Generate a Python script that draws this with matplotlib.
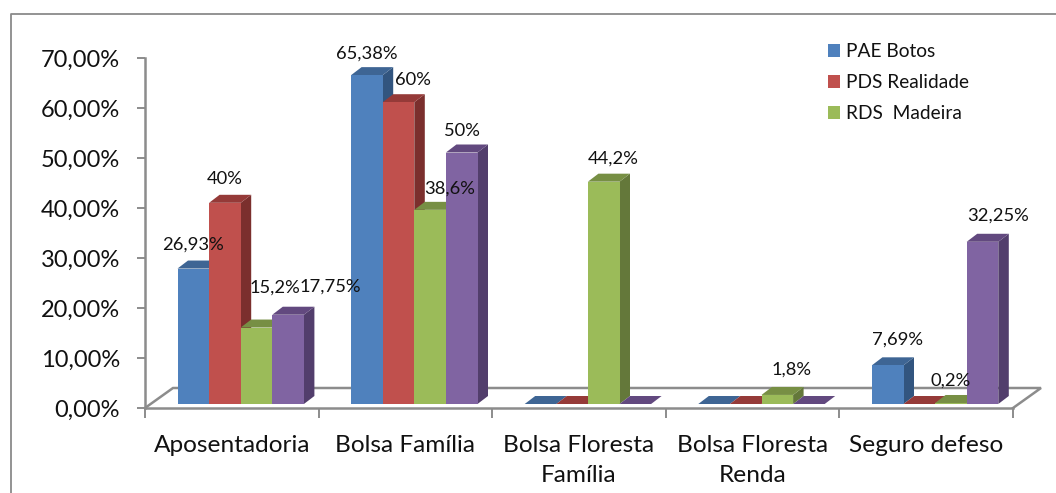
import matplotlib
matplotlib.use("Agg")
import matplotlib.pyplot as plt
from matplotlib.patches import Polygon, Rectangle

W, H = 1056, 493
plt.rcParams['font.family'] = ['Lato', 'DejaVu Sans']

categories = ["Aposentadoria", "Bolsa Família", "Bolsa Floresta\nFamília",
              "Bolsa Floresta\nRenda", "Seguro defeso"]
series_names = ["PAE Botos", "PDS Realidade", "RDS  Madeira"]
pae_botos = [26.93, 65.38, 0, 0, 7.69]
pds_realidade = [40, 60, 0, 0, 0]
rds_madeira = [15.2, 38.6, 44.2, 1.8, 0.2]
quarta_serie = [17.75, 50, 0, 0, 32.25]
pae_labels = ["26,93%", "65,38%", "", "", "7,69%"]
pds_labels = ["40%", "60%", "", "", ""]
rds_labels = ["15,2%", "38,6%", "44,2%", "1,8%", "0,2%"]
quarta_labels = ["17,75%", "50%", "", "", "32,25%"]
yticks = [0, 10, 20, 30, 40, 50, 60, 70]
ytick_labels = ["0,00%", "10,00%", "20,00%", "30,00%", "40,00%", "50,00%", "60,00%", "70,00%"]

front = ["#4F81BD", "#C0504D", "#9BBB59", "#8064A2"]
top = ["#3E6594", "#953A38", "#778F44", "#62497F"]
side = ["#32557F", "#7B2F2D", "#64783A", "#523E6C"]
gray = "#8C8C8C"

fig = plt.figure(figsize=(W / 100, H / 100), dpi=100, facecolor="white")

def axes_px(x0, y_top, x1, y_bot, **kw):
    return fig.add_axes([x0 / W, 1 - y_bot / H, (x1 - x0) / W, (y_bot - y_top) / H], **kw)

# page pixels overlay for frame
bg = axes_px(0, 0, W, H)
bg.set_xlim(0, W); bg.set_ylim(H, 0); bg.axis("off")
bg.plot([11, 11, W], [H, 14, 14], color="#8A8A8A", lw=1.3, solid_capstyle="butt")

# main axis: percent vs category index
ax = axes_px(145, 58, 1013, 408)
ax.patch.set_alpha(0)
ax.set_xlim(0, 5)
ax.set_ylim(0, 70)
for s in ("top", "right"):
    ax.spines[s].set_visible(False)
for s in ("left", "bottom"):
    ax.spines[s].set_color(gray)
    ax.spines[s].set_linewidth(1.8)
ax.set_yticks(yticks, ytick_labels, fontsize=17, color="#111111")
ax.set_xticks(range(6), [""] * 6)
ax.tick_params(axis="y", length=6, width=1.4, color=gray, pad=12)
ax.tick_params(axis="x", length=7, width=1.4, color=gray)
for i, c in enumerate(categories):
    ax.text(i + 0.5, -5.4, c, ha="center", va="top", fontsize=17.6, color="#111111",
            linespacing=1.5)

# floor (depth offset in pixels -> axis units)
ux = 5 / 868
uy = 70 / 350
fd_x, fd_y = 28 * ux, 20 * uy
ax.plot([0, fd_x, 5 + fd_x, 5], [0, fd_y, fd_y, 0], color=gray, lw=1.8, clip_on=False,
        solid_joinstyle="miter")

# bar plane: value scale slightly larger because the front of the 3D box is nearer
bars = axes_px(145, 404 - 5.03 * 70, 1013, 404)
bars.patch.set_alpha(0)
bars.axis("off")
bars.set_xlim(0, 5)
bars.set_ylim(0, 70)
bw = 31.6 * ux
dx, dy = 10.5 * ux, 8 / 5.03
x_shift = 0.5 + 8.9 * ux - 2 * bw
all_series = [pae_botos, pds_realidade, rds_madeira, quarta_serie]
all_labels = [pae_labels, pds_labels, rds_labels, quarta_labels]
# label placement offsets from the bar top centre, in pixels
label_off = {(0, 0): (0, 25.5), (1, 0): (0, 25), (2, 0): (18, 42), (3, 0): (42, 30),
             (0, 1): (0, 23), (1, 1): (14, 24), (2, 1): (20, 23), (3, 1): (0, 23.5),
             (2, 2): (9.5, 25), (2, 3): (14, 27), (0, 4): (9.5, 27),
             (2, 4): (0, 24.5), (3, 4): (15.6, 27.8)}
for ci in range(len(categories)):
    for si, vals in enumerate(all_series):
        v = vals[ci]
        x0 = ci + x_shift + si * bw
        z = 10 + si
        if v > 0:
            bars.add_patch(Polygon([(x0 + bw, 0), (x0 + bw + dx, dy), (x0 + bw + dx, v + dy), (x0 + bw, v)],
                                   closed=True, fc=side[si], ec="none", zorder=z, clip_on=False))
        bars.add_patch(Polygon([(x0, v), (x0 + dx, v + dy), (x0 + bw + dx, v + dy), (x0 + bw, v)],
                               closed=True, fc=top[si], ec="none", zorder=z, clip_on=False))
        bars.bar(x0, v, bw, align="edge", color=front[si], ec="none", zorder=z + 0.1, clip_on=False)
        lab = all_labels[si][ci]
        if lab:
            ox, oy = label_off[(si, ci)]
            bars.annotate(lab, (x0 + bw / 2, v), xytext=(ox * 0.72, oy * 0.72 - 1.2), textcoords="offset points",
                          ha="center", va="center", fontsize=13.2, color="#111111", zorder=40,
                          annotation_clip=False)

# legend
handles = [Rectangle((0, 0), 1, 1, fc=front[i], ec="none") for i in range(3)]
leg = fig.legend(handles, series_names, loc="upper left", bbox_to_anchor=(828 / W, 1 - 43 / H),
                 frameon=False, fontsize=13.8, handlelength=0.63, handleheight=0.63, handletextpad=0.3,
                 labelspacing=0.74, borderpad=0, borderaxespad=0, labelcolor="#111111")

fig.savefig("out.png", dpi=100, facecolor="white")
